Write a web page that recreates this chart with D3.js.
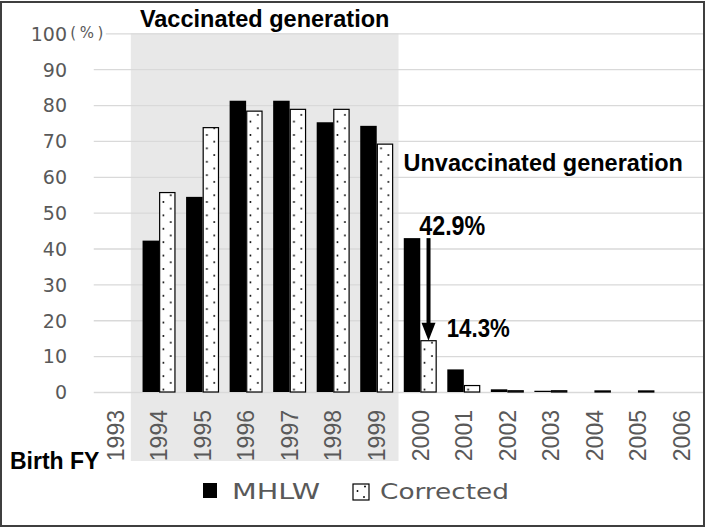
<!DOCTYPE html>
<html>
<head>
<meta charset="utf-8">
<script src="https://cdn.jsdelivr.net/npm/d3@7"></script>
<style>
  html, body { margin: 0; padding: 0; background: #fff; }
  svg { display: block; }
</style>
</head>
<body>
<div id="chart"></div>
<script>
// ---- data ----
const years = ["1993","1994","1995","1996","1997","1998","1999","2000","2001","2002","2003","2004","2005","2006"];
const mhlw = [null, 42.2, 54.4, 81.2, 81.2, 75.2, 74.2, 42.9, 6.3, 0.75, 0.35, null, null, null];
const corrected = [null, 55.6, 73.7, 78.3, 78.8, 78.8, 69.1, 14.3, 1.8, 0.35, 0.35, 0.3, 0.3, null];
const seriesNames = ["MHLW", "Corrected"];
const yTicks = [0, 10, 20, 30, 40, 50, 60, 70, 80, 90, 100];
const yUnit = "（%）";
const xTitle = "Birth FY";
const vaccinatedYears = ["1994", "1999"];
const vaccinatedLabel = "Vaccinated generation";
const unvaccinatedLabel = "Unvaccinated generation";
const highlightYear = "2000";
const highlightFrom = 42.9, highlightTo = 14.3;

// ---- setup ----
const W = 709, H = 528;
const svg = d3.select("#chart").append("svg").attr("width", W).attr("height", H);
svg.append("rect").attr("width", W).attr("height", H).attr("fill", "#fff");

const plotL = 93.75, plotR = 703.25, plotB = 392, plotT = 33.3;
const x = d3.scaleBand().domain(years).range([plotL, plotR]).paddingInner(0.242).paddingOuter(0.121);
const xs = d3.scaleBand().domain(seriesNames).range([0, x.bandwidth()]);
const y = d3.scaleLinear().domain([0, 100]).range([plotB, plotT]);

// pattern for Corrected
const defs = svg.append("defs");
const pw = x.step() / 3, ph = 13.4;
const pat = defs.append("pattern").attr("id", "dots").attr("patternUnits", "userSpaceOnUse")
  .attr("width", pw).attr("height", ph)
  .attr("x", x("1994") + xs("Corrected")).attr("y", y(55.6) + 2.7);
pat.append("rect").attr("width", pw).attr("height", ph).attr("fill", "#fff");
pat.append("circle").attr("cx", 11.7).attr("cy", 0).attr("r", 0.95).attr("fill", "#000");
pat.append("circle").attr("cx", 11.7).attr("cy", ph).attr("r", 0.95).attr("fill", "#000");
pat.append("circle").attr("cx", 4.3).attr("cy", ph / 2).attr("r", 0.95).attr("fill", "#000");

// vaccinated shaded region
const gx0 = x(vaccinatedYears[0]) - x.step() * 0.27;
const gx1 = x(vaccinatedYears[1]) + x.bandwidth() + x.step() * x.paddingInner() / 2;
svg.append("rect").attr("x", gx0).attr("y", y(100)).attr("width", gx1 - gx0).attr("height", 461 - y(100))
  .attr("fill", "#e8e8e8");

// y axis + gridlines
const yAxis = svg.append("g").attr("transform", `translate(${plotL},0)`)
  .call(d3.axisLeft(y).tickValues(yTicks).tickSize(-(plotR - plotL)).tickPadding(26.75));
yAxis.select(".domain").remove();
yAxis.selectAll(".tick line").attr("stroke", "#d9d9d9").attr("stroke-width", 1.3);
yAxis.selectAll(".tick text").attr("fill", "#595959").attr("font-family", "DejaVu Sans").attr("font-size", 19).attr("dy", "0.36em");
yAxis.selectAll(".tick").filter(d => d === 100).each(function () {
  const g = d3.select(this);
  g.append("rect").attr("x", -24).attr("y", -8).attr("width", 36).attr("height", 16).attr("fill", "#fff");
  g.append("text").attr("x", -23.5).attr("y", 0).attr("dy", "0.3em").attr("fill", "#595959")
    .attr("font-family", "DejaVu Sans").attr("font-size", 15).attr("text-anchor", "start")
    .attr("textLength", 33).attr("lengthAdjust", "spacing").text("(%)");
});

// x axis
const xAxis = svg.append("g").attr("transform", `translate(0,${plotB})`)
  .call(d3.axisBottom(x).tickSize(0));
xAxis.select(".domain").remove();
xAxis.selectAll(".tick text").attr("fill", "#595959").attr("font-family", "Liberation Sans").attr("font-size", 23)
  .attr("transform", "rotate(-90)").attr("text-anchor", "end").attr("x", -18).attr("y", 0).attr("dy", "0.36em");

// bars
const rows = years.map((yr, i) => ({ yr, MHLW: mhlw[i], Corrected: corrected[i] }));
const bw = xs.bandwidth();
const g = svg.append("g");
rows.forEach(r => {
  if (r.MHLW != null) g.append("rect").attr("x", x(r.yr) + xs("MHLW")).attr("y", y(r.MHLW))
    .attr("width", bw).attr("height", y(0) - y(r.MHLW)).attr("fill", "#000");
  if (r.Corrected != null) g.append("rect").attr("x", x(r.yr) + xs("Corrected") + 0.6).attr("y", y(r.Corrected))
    .attr("width", bw - 1.2).attr("height", y(0) - y(r.Corrected)).attr("fill", "url(#dots)")
    .attr("stroke", "#000").attr("stroke-width", 1.2);
});

// region labels
svg.append("text").attr("x", (gx0 + gx1) / 2).attr("y", 27).attr("text-anchor", "middle")
  .attr("font-family", "Liberation Sans").attr("font-weight", "bold").attr("font-size", 23.5).attr("fill", "#000")
  .text(vaccinatedLabel);
svg.append("text").attr("x", gx1 + 5).attr("y", 171).attr("text-anchor", "start")
  .attr("font-family", "Liberation Sans").attr("font-weight", "bold").attr("font-size", 23.5).attr("fill", "#000")
  .text(unvaccinatedLabel);

// highlight arrow & labels
const hx = x(highlightYear) + xs("Corrected") + bw / 2;
svg.append("line").attr("x1", hx).attr("x2", hx).attr("y1", y(highlightFrom)).attr("y2", y(highlightTo) - 16)
  .attr("stroke", "#000").attr("stroke-width", 4);
svg.append("path").attr("d", `M${hx - 7},${y(highlightTo) - 18}L${hx + 7},${y(highlightTo) - 18}L${hx},${y(highlightTo)}Z`)
  .attr("fill", "#000");
svg.append("text").attr("x", x(highlightYear) + 15.5).attr("y", y(highlightFrom) - 3)
  .attr("font-family", "Liberation Sans Narrow, Liberation Sans").attr("font-weight", "bold").attr("font-size", 28)
  .attr("textLength", 66).attr("lengthAdjust", "spacingAndGlyphs").text(highlightFrom + "%");
svg.append("text").attr("x", x(highlightYear) + 43).attr("y", y(highlightTo) - 4)
  .attr("font-family", "Liberation Sans Narrow, Liberation Sans").attr("font-weight", "bold").attr("font-size", 26)
  .attr("textLength", 63).attr("lengthAdjust", "spacingAndGlyphs").text(highlightTo + "%");

// x title
svg.append("text").attr("x", 10).attr("y", 469).attr("font-family", "Liberation Sans").attr("font-weight", "bold")
  .attr("font-size", 23).attr("fill", "#000").text(xTitle);

// legend
const leg = svg.append("g");
leg.append("rect").attr("x", 203).attr("y", 483).attr("width", 14).attr("height", 15).attr("fill", "#000");
leg.append("text").attr("x", 232).attr("y", 498.5).attr("font-family", "DejaVu Sans").attr("font-size", 21)
  .attr("fill", "#595959").attr("textLength", 88).attr("lengthAdjust", "spacingAndGlyphs").text(seriesNames[0]);
leg.append("rect").attr("x", 353).attr("y", 484).attr("width", 16).attr("height", 16).attr("fill", "#fff")
  .attr("stroke", "#000").attr("stroke-width", 1.2);
leg.append("circle").attr("cx", 357.5).attr("cy", 491).attr("r", 0.95).attr("fill", "#000");
leg.append("circle").attr("cx", 365).attr("cy", 486.5).attr("r", 0.95).attr("fill", "#000");
leg.append("circle").attr("cx", 364).attr("cy", 497).attr("r", 0.95).attr("fill", "#000");
leg.append("text").attr("x", 380).attr("y", 498.5).attr("font-family", "DejaVu Sans").attr("font-size", 21)
  .attr("fill", "#595959").attr("textLength", 129).attr("lengthAdjust", "spacingAndGlyphs").text(seriesNames[1]);

// outer frame
svg.append("rect").attr("x", 1).attr("y", 2).attr("width", 703).attr("height", 524)
  .attr("fill", "none").attr("stroke", "#3f3f3f").attr("stroke-width", 2);
</script>
</body>
</html>
